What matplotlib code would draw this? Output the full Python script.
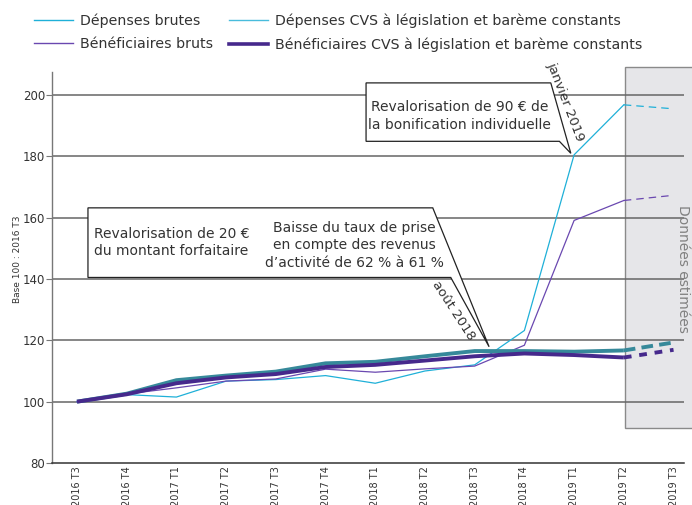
import numpy as np
import matplotlib
matplotlib.use("Agg")
import matplotlib.pyplot as plt
from matplotlib.lines import Line2D
from matplotlib.patches import Polygon, Rectangle

# quarters shown on the x axis
quarters = ["2016 T3", "2016 T4", "2017 T1", "2017 T2", "2017 T3", "2017 T4",
            "2018 T1", "2018 T2", "2018 T3", "2018 T4", "2019 T1", "2019 T2", "2019 T3"]

# index, base 100 = 2016 T3 (last point is an estimate)
depenses_brutes = [100, 102.3, 101.5, 106.7, 107.2, 108.5, 106.0, 110.0, 112.0, 123.2, 180.5, 196.8, 195.5]
beneficiaires_bruts = [100, 102.5, 104.5, 106.7, 107.4, 110.6, 109.6, 110.7, 111.6, 118.4, 159.1, 165.6, 167.3]
depenses_cvs = [100, 102.6, 107.0, 108.5, 109.8, 112.5, 113.0, 114.8, 116.5, 116.5, 116.3, 116.7, 119.3]
beneficiaires_cvs = [100, 102.4, 106.0, 107.9, 109.0, 111.3, 112.0, 113.4, 114.8, 115.7, 115.2, 114.4, 116.9]

n_obs = 12  # observed quarters, the rest is estimated

c_dep = "#1fb0d8"
c_dep_leg = "#48bcdc"
c_ben = "#6a48b0"
c_teal = "#36899a"
c_dpurple = "#46298c"
txt = "#333333"

plt.rcParams["font.family"] = ["DejaVu Sans"]

fig = plt.figure(figsize=(6.92, 5.05), dpi=100)
ax = fig.add_axes([0.0751, 0.0832, 0.9133, 0.7742])

x = np.arange(len(quarters))
obs = slice(0, n_obs)
est = slice(n_obs - 1, len(quarters))

# estimated-data zone
ax.add_patch(Rectangle((11.03, 91.5), 2.5, 117.5, facecolor="#e6e6e9",
                       edgecolor="#8a8a8a", lw=1.0, clip_on=False, zorder=0))

for v in range(100, 201, 20):
    ax.axhline(v, color="#666666", lw=1.1, zorder=1)

ax.plot(x[obs], depenses_brutes[:n_obs], color=c_dep, lw=0.9, zorder=3)
ax.plot(x[est], depenses_brutes[n_obs - 1:], color=c_dep, lw=0.9, ls=(0, (6, 4)), zorder=3)
ax.plot(x[obs], beneficiaires_bruts[:n_obs], color=c_ben, lw=0.9, zorder=3)
ax.plot(x[est], beneficiaires_bruts[n_obs - 1:], color=c_ben, lw=0.9, ls=(0, (6, 4)), zorder=3)
ax.plot(x[obs], depenses_cvs[:n_obs], color=c_teal, lw=2.8, zorder=4, solid_capstyle="butt")
ax.plot(x[est], depenses_cvs[n_obs - 1:], color=c_teal, lw=2.8, ls=(0, (3, 1.6)), zorder=4)
ax.plot(x[obs], beneficiaires_cvs[:n_obs], color=c_dpurple, lw=2.8, zorder=5, solid_capstyle="butt")
ax.plot(x[est], beneficiaires_cvs[n_obs - 1:], color=c_dpurple, lw=2.8, ls=(0, (2, 2)), zorder=5)

ax.set_xlim(-0.503, 12.21)
ax.set_ylim(80, 207.5)
ax.set_yticks(range(80, 201, 20))
ax.set_xticks(x)
ax.set_xticklabels(quarters, rotation=90, va="top")
ax.tick_params(axis="x", length=0, pad=2, labelsize=7, labelcolor=txt)
ax.tick_params(axis="y", length=4, width=0.8, color="#777777", pad=1, labelsize=8.5, labelcolor=txt)
ax.set_ylabel("Base 100 : 2016 T3", fontsize=6.5, color=txt)
ax.yaxis.set_label_coords(-0.048, 0.522)

for s in ["top", "right"]:
    ax.spines[s].set_visible(False)
ax.spines["left"].set_color("#777777")
ax.spines["left"].set_linewidth(1.0)
ax.spines["bottom"].set_color("#333333")
ax.spines["bottom"].set_linewidth(1.1)

# callout boxes
box1 = [(5.815, 203.95), (9.531, 203.95), (9.934, 180.98), (9.704, 184.9), (5.815, 184.9)]
box2 = [(0.221, 163.2), (7.157, 163.2), (8.290, 117.9), (7.519, 140.5), (0.221, 140.5)]
for pts in (box1, box2):
    ax.add_patch(Polygon(pts, closed=True, facecolor="white", edgecolor="#222222",
                         lw=0.9, zorder=6, clip_on=False))

ax.text(7.696, 193.2, "Revalorisation de 90 € de\nla bonification individuelle",
        ha="center", va="center", fontsize=10, color=txt, linespacing=1.3, zorder=7)
ax.text(9.827, 197.7, "janvier 2019", rotation=-69, ha="center", va="center",
        fontsize=9.5, color=txt, zorder=7, rotation_mode="anchor")
ax.text(1.901, 151.9, "Revalorisation de 20 €\ndu montant forfaitaire",
        ha="center", va="center", fontsize=10, color=txt, linespacing=1.25, zorder=7)
ax.text(5.573, 151.0, "Baisse du taux de prise\nen compte des revenus\nd\u2019activité de 62 % à 61 %",
        ha="center", va="center", fontsize=10, color=txt, linespacing=1.3, zorder=7)
ax.text(7.565, 129.7, "août 2018", rotation=-57, ha="center", va="center",
        fontsize=9.5, color=txt, zorder=7, rotation_mode="anchor")

fig.text(683 / 692, 1 - 205 / 505, "Données estimées", rotation=-90, ha="center",
         va="top", fontsize=10, color="#808080")

handles = [
    Line2D([], [], color=c_dep, lw=1.0),
    Line2D([], [], color=c_ben, lw=1.0),
    Line2D([], [], color=c_dep_leg, lw=1.0),
    Line2D([], [], color=c_dpurple, lw=2.6),
]
labels = ["Dépenses brutes", "Bénéficiaires bruts",
          "Dépenses CVS à législation et barème constants",
          "Bénéficiaires CVS à législation et barème constants"]
fig.legend(handles, labels, ncol=2, loc="upper left", bbox_to_anchor=(0.031, 0.998),
           frameon=False, fontsize=10.2, handlelength=2.75, handletextpad=0.5,
           columnspacing=1.1, labelspacing=0.62, labelcolor=txt)

fig.savefig("out.png", dpi=100)
